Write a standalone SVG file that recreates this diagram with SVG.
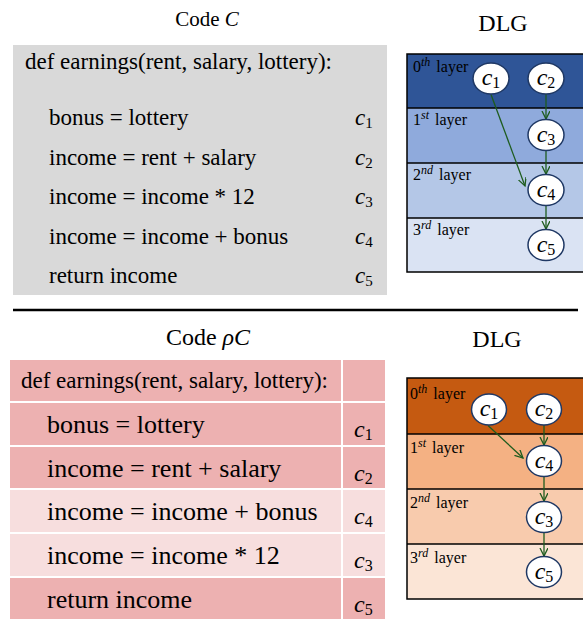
<svg xmlns="http://www.w3.org/2000/svg" width="583" height="619" viewBox="0 0 583 619">
<style>
.t{font-family:"Liberation Serif","Times New Roman",serif;fill:#000}
.title{font-size:21px}
.title2{font-size:24px}
.code{font-size:23px}
.code2{font-size:26px}
.m{font-family:"Liberation Serif","Times New Roman",serif;font-style:italic}
.lbl{font-size:23px}
.lbl2{font-size:24px}
.sub{font-style:normal;font-size:15px}
.sub2{font-style:normal;font-size:16px}
.nsub{font-style:normal;font-size:16px}
.lay{font-size:16px}
.sup{font-style:italic;font-size:12px}
.node ellipse{fill:#fff;stroke:#1F3864;stroke-width:1.5}
.nd{font-size:24px;text-anchor:middle}
.cell{stroke:#fff;stroke-width:2}
.dark{fill:#EDB1B1}
.light{fill:#F7DEDE}
.edge{stroke:#1E5C1E;stroke-width:1.3;fill:none;marker-end:url(#arr)}
.div{stroke:#000;stroke-width:1.3}
</style>
<defs>
<marker id="arr" markerUnits="userSpaceOnUse" markerWidth="10" markerHeight="10" refX="8" refY="4" orient="auto">
<path d="M0,0 L8,4 L0,8" fill="none" stroke="#1E5C1E" stroke-width="1.3"/>
</marker>
</defs>

<!-- Top: Code C -->
<g id="code-c">
<text class="t title" x="207" y="26" text-anchor="middle">Code <tspan class="m">C</tspan></text>
<rect x="13" y="45" width="374" height="250" fill="#D9D9D9"/>
<text class="t code" x="25" y="69">def earnings(rent, salary, lottery):</text>
<text class="t code" x="49" y="125">bonus = lottery</text>
<text class="t code" x="49" y="164.5">income = rent + salary</text>
<text class="t code" x="49" y="204">income = income * 12</text>
<text class="t code" x="49" y="243.5">income = income + bonus</text>
<text class="t code" x="49" y="283">return income</text>
<text class="t m lbl" x="355" y="125">c<tspan class="sub" dy="3">1</tspan></text>
<text class="t m lbl" x="355" y="164.5">c<tspan class="sub" dy="3">2</tspan></text>
<text class="t m lbl" x="355" y="204">c<tspan class="sub" dy="3">3</tspan></text>
<text class="t m lbl" x="355" y="243.5">c<tspan class="sub" dy="3">4</tspan></text>
<text class="t m lbl" x="355" y="283">c<tspan class="sub" dy="3">5</tspan></text>
</g>

<!-- Top DLG -->
<g id="dlg-top">
<text class="t title2" x="503" y="31" text-anchor="middle">DLG</text>
<rect x="407" y="54" width="180" height="54" fill="#2F5597"/>
<rect x="407" y="108" width="180" height="55" fill="#8FAADC"/>
<rect x="407" y="163" width="180" height="55" fill="#B4C7E7"/>
<rect x="407" y="218" width="180" height="54" fill="#DAE3F3"/>
<line class="div" x1="407" y1="108" x2="590" y2="108"/>
<line class="div" x1="407" y1="163" x2="590" y2="163"/>
<line class="div" x1="407" y1="218" x2="590" y2="218"/>
<rect x="407" y="54" width="183" height="218" fill="none" stroke="#000" stroke-width="1.5"/>
<text class="t lay" x="413" y="72">0<tspan class="sup" dy="-6">th</tspan><tspan dx="2" dy="6"> layer</tspan></text>
<text class="t lay" x="413" y="125">1<tspan class="sup" dy="-6">st</tspan><tspan dx="2" dy="6"> layer</tspan></text>
<text class="t lay" x="413" y="180">2<tspan class="sup" dy="-6">nd</tspan><tspan dx="2" dy="6"> layer</tspan></text>
<text class="t lay" x="413" y="235">3<tspan class="sup" dy="-6">rd</tspan><tspan dx="2" dy="6"> layer</tspan></text>
</g>

<g id="top-edges">
<line class="edge" x1="546" y1="94" x2="546" y2="119"/>
<line class="edge" x1="546" y1="150.5" x2="546" y2="174"/>
<line class="edge" x1="546" y1="205.5" x2="546" y2="229"/>
<line class="edge" x1="491" y1="94.5" x2="525" y2="186"/>
</g>

<g id="t-c1" class="node"><ellipse cx="491" cy="78.5" rx="18" ry="15.5"/><text class="t m nd" x="491" y="85">c<tspan class="nsub" dy="3">1</tspan></text></g>
<g id="t-c2" class="node"><ellipse cx="546" cy="78.5" rx="18" ry="15.5"/><text class="t m nd" x="546" y="85">c<tspan class="nsub" dy="3">2</tspan></text></g>
<g id="t-c3" class="node"><ellipse cx="546" cy="135" rx="18" ry="15.5"/><text class="t m nd" x="546" y="141.5">c<tspan class="nsub" dy="3">3</tspan></text></g>
<g id="t-c4" class="node"><ellipse cx="546" cy="190" rx="18" ry="15.5"/><text class="t m nd" x="546" y="196.5">c<tspan class="nsub" dy="3">4</tspan></text></g>
<g id="t-c5" class="node"><ellipse cx="546" cy="245" rx="18" ry="15.5"/><text class="t m nd" x="546" y="251.5">c<tspan class="nsub" dy="3">5</tspan></text></g>

<!-- separator -->
<line x1="13" y1="310" x2="578" y2="310" stroke="#000" stroke-width="2.5"/>

<!-- Bottom: Code rho C -->
<g id="code-rc">
<text class="t title2" x="208" y="345" text-anchor="middle">Code <tspan class="m">ρC</tspan></text>
<rect class="cell dark" x="9" y="359" width="333" height="43"/>
<rect class="cell dark" x="342" y="359" width="44" height="43"/>
<rect class="cell dark" x="9" y="402" width="333" height="44"/>
<rect class="cell dark" x="342" y="402" width="44" height="44"/>
<rect class="cell dark" x="9" y="446" width="333" height="43"/>
<rect class="cell dark" x="342" y="446" width="44" height="43"/>
<rect class="cell light" x="9" y="489" width="333" height="44"/>
<rect class="cell light" x="342" y="489" width="44" height="44"/>
<rect class="cell light" x="9" y="533" width="333" height="44"/>
<rect class="cell light" x="342" y="533" width="44" height="44"/>
<rect class="cell dark" x="9" y="577" width="333" height="45"/>
<rect class="cell dark" x="342" y="577" width="44" height="45"/>
<text class="t code" x="21" y="388">def earnings(rent, salary, lottery):</text>
<text class="t code2" x="47" y="433">bonus = lottery</text>
<text class="t code2" x="47" y="476.5">income = rent + salary</text>
<text class="t code2" x="47" y="520">income = income + bonus</text>
<text class="t code2" x="47" y="564">income = income * 12</text>
<text class="t code2" x="47" y="607.5">return income</text>
<text class="t m lbl2" x="354" y="437">c<tspan class="sub2" dy="3">1</tspan></text>
<text class="t m lbl2" x="354" y="480.5">c<tspan class="sub2" dy="3">2</tspan></text>
<text class="t m lbl2" x="354" y="524">c<tspan class="sub2" dy="3">4</tspan></text>
<text class="t m lbl2" x="354" y="568">c<tspan class="sub2" dy="3">3</tspan></text>
<text class="t m lbl2" x="354" y="611.5">c<tspan class="sub2" dy="3">5</tspan></text>
</g>

<!-- Bottom DLG -->
<g id="dlg-bottom">
<text class="t title2" x="497" y="347" text-anchor="middle">DLG</text>
<rect x="407" y="378" width="183" height="56" fill="#C55A11"/>
<rect x="407" y="434" width="183" height="55" fill="#F4B183"/>
<rect x="407" y="489" width="183" height="55" fill="#F8CBAD"/>
<rect x="407" y="544" width="183" height="55" fill="#FBE5D6"/>
<line class="div" x1="407" y1="434" x2="590" y2="434"/>
<line class="div" x1="407" y1="489" x2="590" y2="489"/>
<line class="div" x1="407" y1="544" x2="590" y2="544"/>
<rect x="407" y="378" width="183" height="221" fill="none" stroke="#000" stroke-width="1.5"/>
<text class="t lay" x="410" y="399">0<tspan class="sup" dy="-6">th</tspan><tspan dx="2" dy="6"> layer</tspan></text>
<text class="t lay" x="410" y="453">1<tspan class="sup" dy="-6">st</tspan><tspan dx="2" dy="6"> layer</tspan></text>
<text class="t lay" x="410" y="508">2<tspan class="sup" dy="-6">nd</tspan><tspan dx="2" dy="6"> layer</tspan></text>
<text class="t lay" x="410" y="563">3<tspan class="sup" dy="-6">rd</tspan><tspan dx="2" dy="6"> layer</tspan></text>
</g>

<g id="bottom-edges">
<line class="edge" x1="544" y1="425" x2="544" y2="445"/>
<line class="edge" x1="544" y1="476.5" x2="544" y2="501"/>
<line class="edge" x1="544" y1="532.5" x2="544" y2="556"/>
<line class="edge" x1="488" y1="425.5" x2="523" y2="458"/>
</g>

<g id="b-c1" class="node"><ellipse cx="489" cy="409.5" rx="17.5" ry="15.5"/><text class="t m nd" x="489" y="416">c<tspan class="nsub" dy="3">1</tspan></text></g>
<g id="b-c2" class="node"><ellipse cx="544" cy="409.5" rx="17.5" ry="15.5"/><text class="t m nd" x="544" y="416">c<tspan class="nsub" dy="3">2</tspan></text></g>
<g id="b-c4" class="node"><ellipse cx="544" cy="461" rx="17.5" ry="15.5"/><text class="t m nd" x="544" y="467.5">c<tspan class="nsub" dy="3">4</tspan></text></g>
<g id="b-c3" class="node"><ellipse cx="544" cy="517" rx="17.5" ry="15.5"/><text class="t m nd" x="544" y="523.5">c<tspan class="nsub" dy="3">3</tspan></text></g>
<g id="b-c5" class="node"><ellipse cx="544" cy="572" rx="17.5" ry="15.5"/><text class="t m nd" x="544" y="578.5">c<tspan class="nsub" dy="3">5</tspan></text></g>
</svg>
